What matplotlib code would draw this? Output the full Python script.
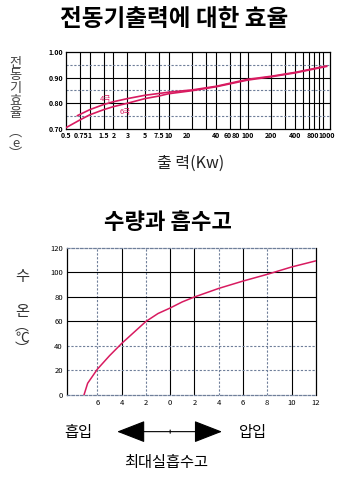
import matplotlib
matplotlib.use('Agg')
import matplotlib.pyplot as plt
import matplotlib.transforms as mtransforms
from matplotlib.ticker import FixedLocator, NullFormatter, NullLocator

plt.rcParams['font.family'] = ['Noto Sans CJK KR', 'DejaVu Sans']

# --- data: motor efficiency vs output ---
kw_ticks = [0.5, 0.75, 1, 1.5, 2, 3, 5, 7.5, 10, 20, 40, 60, 80, 100, 200, 400, 800, 1000]
kw_tick_labels = ['0.5', '0.75', '1', '1.5', '2', '3', '5', '7.5', '10', '20',
                  '40', '60', '80', '100', '200', '400', '800', '1000']
kw_grid = [0.75, 1, 1.5, 2, 3, 5, 7.5, 10, 20, 30, 40, 60, 80, 100,
           200, 300, 400, 500, 600, 700, 800, 900]
eff_ticks = [0.70, 0.80, 0.90, 1.00]
eff_minor = [0.75, 0.85, 0.95]

kw_4p = [0.7, 1, 1.5, 2, 3, 5, 7.5, 10, 20, 40, 100, 200, 400, 1000]
eff_4p = [0.752, 0.775, 0.795, 0.806, 0.818, 0.831, 0.838, 0.843, 0.852, 0.866,
          0.893, 0.905, 0.920, 0.945]
kw_6p = [0.5, 0.75, 1, 1.5, 2, 3, 5, 7.5, 10, 20, 40, 100, 200, 400, 1000]
eff_6p = [0.705, 0.735, 0.755, 0.775, 0.787, 0.800, 0.818, 0.828, 0.837, 0.849,
          0.864, 0.890, 0.903, 0.918, 0.943]

# --- data: water temperature vs suction head ---
head = [-7.1, -6.8, -6, -5, -4, -3, -2, -1, 0, 1, 2, 3, 4, 6, 8, 10, 12]
temp = [0, 9.5, 21, 32, 42, 51, 60, 66.5, 71, 76, 80, 83.5, 87, 93, 98.5, 104.5, 109.5]
head_ticks = [-6, -4, -2, 0, 2, 4, 6, 8, 10, 12]
head_labels = ['6', '4', '2', '0', '2', '4', '6', '8', '10', '12']
temp_ticks = [0, 20, 40, 60, 80, 100, 120]

red = '#d81b60'
dash_col = '#6f7f9a'

fig = plt.figure(figsize=(3.49, 4.98), dpi=100)
fig.patch.set_facecolor('white')

# ---------------- top chart ----------------
ax1 = fig.add_axes([0.189, 0.741, 0.756, 0.155])
ax1.set_xscale('log')
ax1.set_xlim(0.5, 1100)
ax1.set_ylim(0.70, 1.00)

for v in kw_grid:
    ax1.axvline(v, color='black', lw=0.8, zorder=1)
for v in eff_ticks[1:-1]:
    ax1.axhline(v, color='black', lw=0.8, zorder=1)
for v in eff_minor:
    ax1.axhline(v, color=dash_col, lw=0.8, ls=(0, (2, 1.5)), zorder=1)

ax1.plot(kw_4p, eff_4p, color=red, lw=1.2, zorder=3)
ax1.plot(kw_6p, eff_6p, color=red, lw=1.2, zorder=3)
ax1.text(1.6, 0.816, '4극', color=red, fontsize=5.5, ha='center', va='center')
ax1.text(2.8, 0.765, '6극', color=red, fontsize=5.5, ha='center', va='center')

ax1.xaxis.set_major_locator(FixedLocator(kw_ticks))
ax1.set_xticklabels(kw_tick_labels)
ax1.xaxis.set_minor_locator(NullLocator())
ax1.xaxis.set_minor_formatter(NullFormatter())
ax1.set_yticks(eff_ticks)
ax1.set_yticklabels(['0.70', '0.80', '0.90', '1.00'])
ax1.tick_params(axis='both', length=0, labelsize=5, pad=2)
for lab in ax1.get_xticklabels() + ax1.get_yticklabels():
    lab.set_fontweight('bold')
# nudge crowded labels apart a little, as on the printed chart
shift = {'20': -5, '60': -2, '80': -4, '800': -6, '0.75': 1}
for lab in ax1.get_xticklabels():
    dx = shift.get(lab.get_text(), 0)
    if dx:
        lab.set_transform(lab.get_transform() +
                          mtransforms.ScaledTranslation(dx / 100, 0, fig.dpi_scale_trans))
for s in ax1.spines.values():
    s.set_linewidth(0.9)

fig.text(0.5, 0.962, '전동기출력에 대한 효율', ha='center', va='center',
         fontsize=17, fontweight='bold')
fig.text(0.545, 0.672, '출 력(Kw)', ha='center', va='center', fontsize=11.5, color='#222222')
fig.text(0.045, 0.823, '전\n동\n기\n효\n율', ha='center', va='center', fontsize=9.5,
         color='#444444', linespacing=0.95)
fig.text(0.045, 0.712, '︵\ne\n︶', ha='center', va='center', fontsize=9.5,
         color='#444444', linespacing=0.8)

# ---------------- bottom chart ----------------
ax2 = fig.add_axes([0.192, 0.207, 0.713, 0.295])
ax2.set_xlim(-8.5, 12)
ax2.set_ylim(0, 120)

solid_x = [-4, 0, 2, 6, 10]
dashed_x = [-6, -2, 4, 8]
solid_y = [60, 80, 100]
dashed_y = [20, 40]
for v in solid_x:
    ax2.axvline(v, color='black', lw=0.8, zorder=1)
for v in dashed_x:
    ax2.axvline(v, color=dash_col, lw=0.8, ls=(0, (2, 1.5)), zorder=1)
for v in solid_y:
    ax2.axhline(v, color='black', lw=0.8, zorder=1)
for v in dashed_y:
    ax2.axhline(v, color=dash_col, lw=0.8, ls=(0, (2, 1.5)), zorder=1)

ax2.spines['top'].set_linestyle((0, (2, 1.5)))
ax2.spines['top'].set_color(dash_col)
ax2.spines['bottom'].set_linestyle((0, (2, 1.5)))
ax2.spines['bottom'].set_color(dash_col)
for s in ax2.spines.values():
    s.set_linewidth(0.9)

ax2.plot(head, temp, color=red, lw=1.1, zorder=3)

ax2.set_xticks(head_ticks)
ax2.set_xticklabels(head_labels)
ax2.set_yticks(temp_ticks)
ax2.tick_params(axis='both', length=0, labelsize=5.5, pad=3)

fig.text(0.48, 0.554, '수량과 흡수고', ha='center', va='center',
         fontsize=16, fontweight='bold')
fig.text(0.063, 0.445, '수', ha='center', va='center', fontsize=11, color='#333333')
fig.text(0.063, 0.375, '온', ha='center', va='center', fontsize=11, color='#333333')
fig.text(0.063, 0.322, '︵\n℃\n︶', ha='center', va='center', fontsize=10,
         color='#333333', linespacing=0.75)

# suction / pressure arrow
fig.text(0.223, 0.132, '흡입', ha='center', va='center', fontsize=11)
fig.text(0.725, 0.132, '압입', ha='center', va='center', fontsize=11)
fig.text(0.477, 0.072, '최대실흡수고', ha='center', va='center', fontsize=11)
ax2.annotate('', xy=(-4.6, -0.25), xycoords=('data', 'axes fraction'),
             xytext=(4.5, -0.25), textcoords=('data', 'axes fraction'),
             arrowprops=dict(arrowstyle='<|-|>,head_length=1.8,head_width=0.7',
                             color='black', lw=0.8, mutation_scale=10),
             annotation_clip=False)
ax2.annotate('', xy=(0, -0.22), xycoords=('data', 'axes fraction'),
             xytext=(0, -0.28), textcoords=('data', 'axes fraction'),
             arrowprops=dict(arrowstyle='-', color='black', lw=0.8),
             annotation_clip=False)

fig.savefig('out.png', dpi=100, facecolor='white')
